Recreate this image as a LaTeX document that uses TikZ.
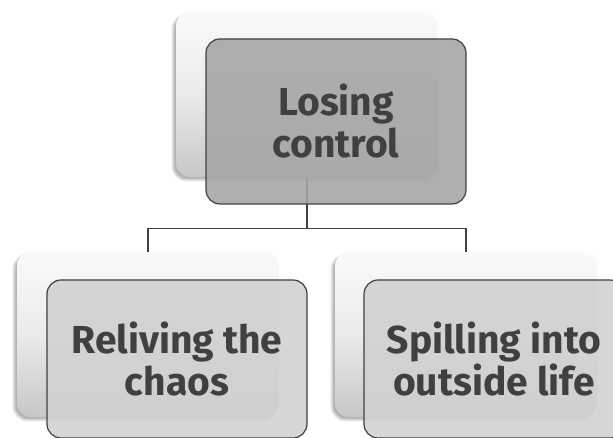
\documentclass[tikz,border=0pt]{standalone}
\usepackage{fontspec}
\setmainfont{Fira Sans}
\usetikzlibrary{shadows.blur,calc}
\definecolor{inkgray}{HTML}{404040}

\tikzset{
  backcard/.style={rounded corners=14pt, minimum width=262pt, minimum height=165pt,
    top color=black!2, bottom color=black!22, middle color=black!8,
    blur shadow={shadow xshift=-3pt, shadow yshift=-3pt, shadow blur steps=6, shadow opacity=30}},
  frontcard/.style={rounded corners=14pt, minimum width=260pt, draw=inkgray, line width=1.2pt,
    fill opacity=0.9, text opacity=1, text=inkgray, align=center,
    font=\fontsize{39}{42}\selectfont\bfseries},
  link/.style={draw=inkgray, line width=1.2pt}
}

\begin{document}
\begin{tikzpicture}[x=1pt,y=1pt]
  %%%%% START %%%%%
  \useasboundingbox (0,0) rectangle (613,438);

  \node[backcard] (topback) at (307, 343.5) {};
  \node[backcard] (leftback) at (148, 103.5) {};
  \node[backcard] (rightback) at (466, 103.5) {};

  \draw[link] (topback.south) -- ++(0,-51) -| (leftback.north);
  \draw[link] (topback.south) -- ++(0,-51) -| (rightback.north);

  \node[frontcard, fill=black!35, minimum height=165pt] (losing) at (336, 316.5) {Losing\\control};
  \node[frontcard, fill=black!18, minimum height=158pt] (reliving) at (177, 79) {Reliving the\\chaos};
  \node[frontcard, fill=black!18, minimum height=158pt] (spilling) at (494, 79) {Spilling into\\outside life};
  %%%%% END %%%%%
\end{tikzpicture}
\end{document}
